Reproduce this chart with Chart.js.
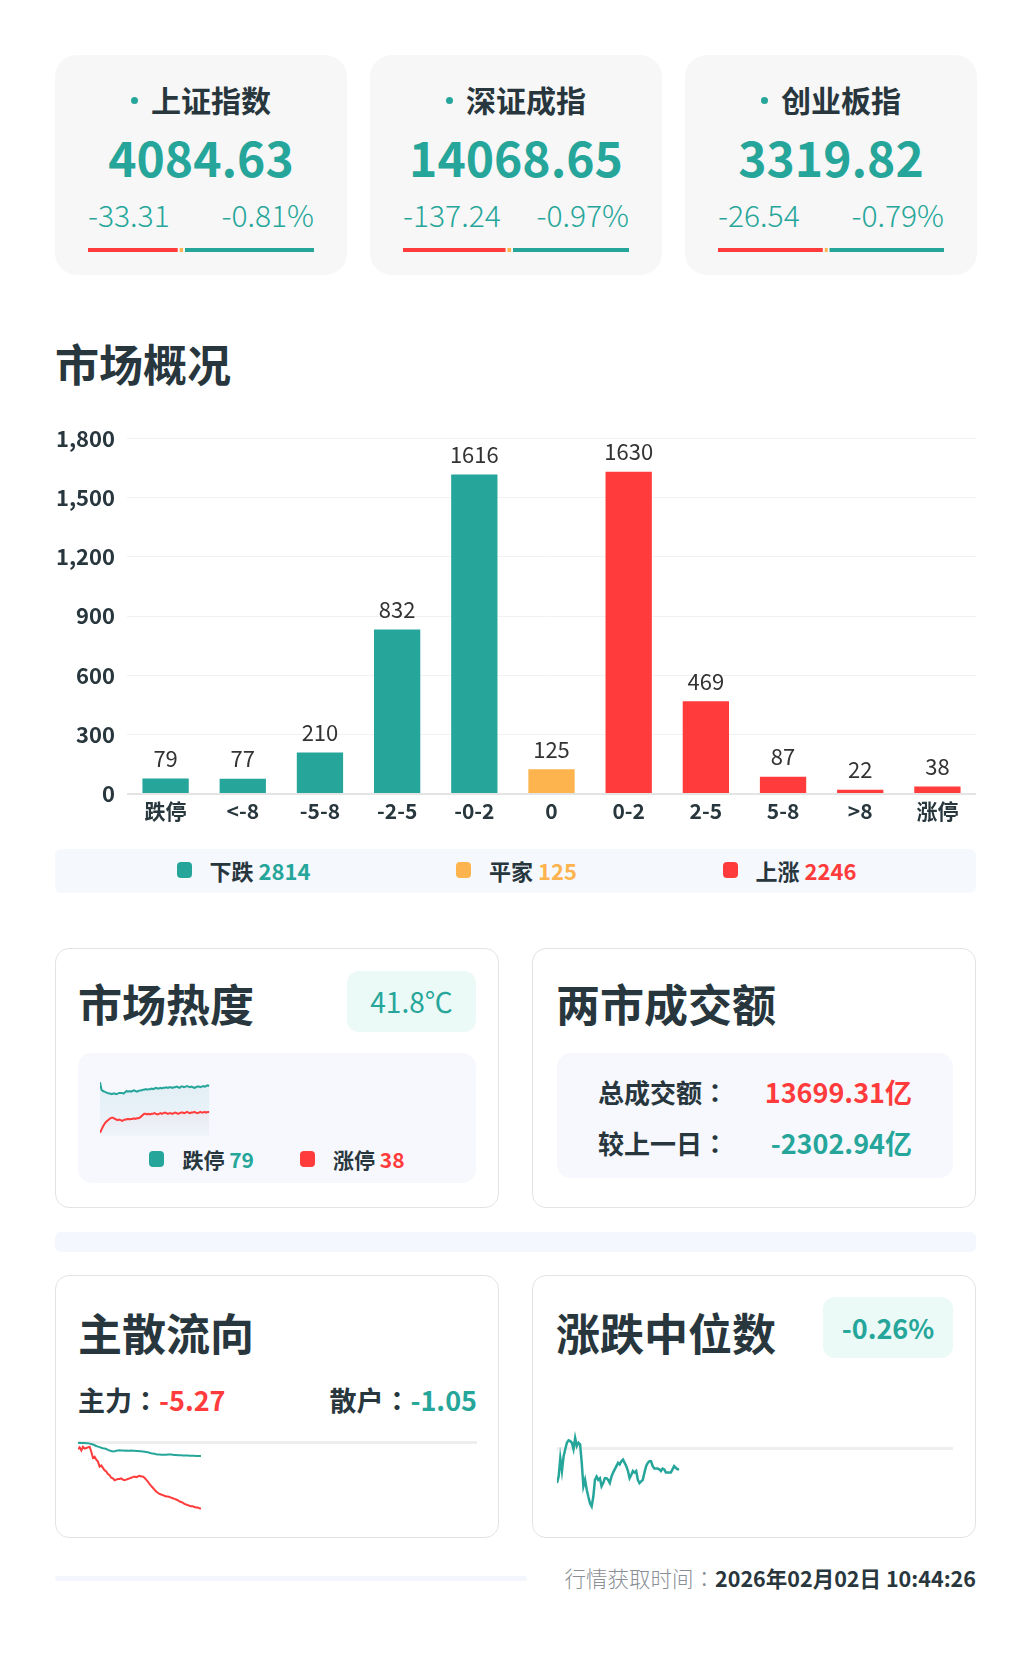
<!DOCTYPE html>
<html><head><meta charset="utf-8">
<script src="https://cdn.jsdelivr.net/npm/chart.js@4.4.1/dist/chart.umd.min.js"></script>
<style>
*{margin:0;padding:0;box-sizing:border-box}
html,body{width:1031px;height:1661px;background:#fff;overflow:hidden}
body{position:relative;font-family:"Noto Sans CJK SC","Noto Sans",sans-serif;color:#28363d}
.a{position:absolute}
.idx{position:absolute;top:55px;width:292px;height:220px;background:#f7f7f7;border-radius:22px}
.idx .t{position:absolute;left:0;right:0;top:24px;height:40px;line-height:40px;text-align:center;font-size:30px;font-weight:700}
.idx .t i{display:inline-block;width:7px;height:7px;border-radius:50%;background:#26a69a;vertical-align:middle;margin-right:13px;position:relative;top:-3px}
.idx .v{position:absolute;left:0;right:0;top:71px;height:60px;line-height:60px;text-align:center;font-size:48px;font-weight:700;color:#26a69a}
.idx .c{position:absolute;left:33px;width:226px;top:141px;height:36px;line-height:36px;display:flex;justify-content:space-between;font-size:30px;font-weight:300;color:#26a69a}
.idx .b{position:absolute;left:33px;width:226px;top:193px;height:4px}
.h1{position:absolute;font-size:44px;font-weight:700;height:56px;line-height:56px;white-space:nowrap}
.card{position:absolute;background:#fff;border:1px solid #e3e3e3;border-radius:14px}
.inner{position:absolute;background:#f6f8fd;border-radius:14px}
.badge{position:absolute;background:#ebfaf6;border-radius:12px;text-align:center;color:#26a69a}
.sq{display:inline-block;width:15px;height:16px;border-radius:4px;margin-right:18px}
.col{font-family:"Noto Sans CJK TC","Noto Sans CJK SC",sans-serif}
</style></head><body>

<div id="cards"></div>

<div class="h1" style="left:55px;top:335px">市场概况</div>
<div class="a" style="left:55px;top:413px;width:921px;height:425px"><canvas id="dist"></canvas></div>
<div class="a" style="left:55px;top:849px;width:921px;height:44px;background:#f5f8fd;border-radius:6px"></div>
<div id="distLegend" class="a" style="left:107px;top:848px;width:819px;height:44px;display:flex"></div>

<div class="card" style="left:55px;top:948px;width:444px;height:260px"></div>
<div class="h1" style="left:78px;top:975px">市场热度</div>
<div class="badge" id="heatBadge" style="left:347px;top:971px;width:129px;height:61px;line-height:61px;font-size:28px;font-weight:400"></div>
<div class="inner" style="left:78px;top:1053px;width:398px;height:130px"></div>
<div class="a" style="left:100px;top:1060px;width:354px;height:76px"><canvas id="heat"></canvas></div>
<div id="heatLegend" class="a" style="left:78px;top:1145px;width:398px;height:28px;display:flex;justify-content:center;gap:46px"></div>

<div class="card" style="left:532px;top:948px;width:444px;height:260px"></div>
<div class="h1" style="left:556px;top:975px">两市成交额</div>
<div class="inner" style="left:557px;top:1053px;width:396px;height:125px"></div>
<div id="turnover"></div>

<div class="a" style="left:55px;top:1232px;width:921px;height:20px;background:#f4f7fd;border-radius:6px"></div>

<div class="card" style="left:55px;top:1275px;width:444px;height:263px"></div>
<div class="h1" style="left:78px;top:1304px">主散流向</div>
<div id="flowText"></div>
<div class="a" style="left:78px;top:1420px;width:399px;height:105px"><canvas id="flow"></canvas></div>

<div class="card" style="left:532px;top:1275px;width:444px;height:263px"></div>
<div class="h1" style="left:556px;top:1304px">涨跌中位数</div>
<div class="badge" id="medBadge" style="left:823px;top:1297px;width:130px;height:61px;line-height:61px;font-size:27px;font-weight:700"></div>
<div class="a" style="left:557px;top:1400px;width:396px;height:125px"><canvas id="median"></canvas></div>

<div class="a" style="left:55px;top:1576px;width:472px;height:5px;background:#f3f6fc;border-radius:3px"></div>
<div id="footer" class="a" style="right:55px;top:1562px;height:32px;line-height:32px;font-size:21.5px;white-space:nowrap"></div>

<script>
// ---------- data ----------
const indexNames = ['上证指数', '深证成指', '创业板指'];
const indexValues = [4084.63, 14068.65, 3319.82];
const indexChanges = [-33.31, -137.24, -26.54];
const indexPcts = [-0.81, -0.97, -0.79];
const indexUp = [940, 1300, 650];
const indexFlat = [55, 70, 30];
const indexDown = [1330, 1450, 700];

const rangeCats = ['跌停', '<-8', '-5-8', '-2-5', '-0-2', '0', '0-2', '2-5', '5-8', '>8', '涨停'];
const rangeCounts = [79, 77, 210, 832, 1616, 125, 1630, 469, 87, 22, 38];
const rangeSide = ['down', 'down', 'down', 'down', 'down', 'flat', 'up', 'up', 'up', 'up', 'up'];
const countAxisMax = 1800;
const countAxisStep = 300;

const heatTemp = '41.8℃';
const limitDownSeries = [85,73,71,70,69,68,67,67,66,67, 67,66,67,68,68,68,67,69,71,70, 71,70,71,72,71,70,71,72,72,73,
  73,74,73,74,74,75,74,75,76,75, 75,76,75,76,76,77,76,77,77,76, 77,77,78,77,76,78,78,77,78,79,
  78,77,78,77,76,77,78,78,77,78, 79,78,79,80,79];
const limitUpSeries = [5,10,15,19,22,24,26,28,29,29, 27,26,25,26,25,24,25,26,26,27, 26,27,27,28,27,28,28,29,31,33,
  35,35,34,35,34,35,35,36,35,34, 35,36,35,36,37,36,35,36,36,35, 36,37,36,35,36,37,37,36,37,38,
  37,36,37,37,38,37,36,37,38,37, 37,38,37,38,38];

const turnoverTotal = '13699.31亿';
const turnoverDiff = '-2302.94亿';

const mainFlow = '-5.27';
const retailFlow = '-1.05';
const mainFlowSeries = [-0.5,-0.35,-0.6,-0.3,-0.45,-0.4,-0.35,-0.3,-0.7,-1.2, -1.1,-1.35,-1.5,-1.9,-1.8,-2.0,-2.2,-2.3,-2.5,-2.6,
  -2.8,-2.85,-3.0,-2.95,-2.9,-2.9,-2.85,-2.95,-3.0,-2.95, -2.9,-2.85,-2.8,-2.75,-2.7,-2.75,-2.7,-2.65,-2.7,-2.7,
  -2.8,-2.95,-3.1,-3.3,-3.45,-3.6,-3.75,-3.9,-4.0,-4.1, -4.15,-4.2,-4.25,-4.3,-4.3,-4.35,-4.4,-4.45,-4.5,-4.55,
  -4.6,-4.7,-4.75,-4.8,-4.9,-4.95,-5.0,-5.05,-5.1,-5.1, -5.15,-5.2,-5.2,-5.25,-5.27];
const retailFlowSeries = [0,0.02,0,-0.01,0,-0.02,-0.02,-0.05,-0.08,-0.12, -0.18,-0.24,-0.29,-0.33,-0.38,-0.42,-0.45,-0.48,-0.55,-0.6,
  -0.65,-0.68,-0.66,-0.62,-0.6,-0.58,-0.6,-0.6,-0.62,-0.6, -0.62,-0.63,-0.61,-0.62,-0.63,-0.64,-0.65,-0.66,-0.67,-0.68,
  -0.7,-0.72,-0.75,-0.78,-0.82,-0.85,-0.87,-0.9,-0.92,-0.93, -0.94,-0.95,-0.95,-0.94,-0.93,-0.92,-0.93,-0.94,-0.96,-0.97,
  -0.98,-0.98,-0.99,-1.0,-1.0,-1.01,-1.01,-1.02,-1.02,-1.03, -1.03,-1.04,-1.04,-1.05,-1.05];

const medianValue = '-0.26%';
const medianSeries = [-0.43,-0.35,-0.12,-0.28,-0.10,-0.01,0.07,0.10,0.09,0.07, -0.01,0.13,0.03,0.07,0.05,-0.18,-0.47,-0.39,-0.51,-0.60,
  -0.68,-0.72,-0.60,-0.39,-0.35,-0.39,-0.37,-0.47,-0.43,-0.37, -0.37,-0.39,-0.43,-0.35,-0.30,-0.26,-0.22,-0.18,-0.20,-0.16,
  -0.14,-0.18,-0.22,-0.28,-0.37,-0.33,-0.28,-0.30,-0.28,-0.39, -0.43,-0.41,-0.39,-0.30,-0.22,-0.18,-0.16,-0.16,-0.22,-0.25,
  -0.25,-0.25,-0.26,-0.28,-0.25,-0.26,-0.30,-0.30,-0.30,-0.30, -0.26,-0.22,-0.24,-0.26,-0.26];

const fetchLabel = '行情获取时间';
const fetchTime = '2026年02月02日 10:44:26';

// ---------- styles ----------
const TEAL = '#26a69a', RED = '#ff3b3b', ORANGE = '#fdb44e', DARK = '#28363d';
const FONT = '"Noto Sans CJK SC","Noto Sans",sans-serif';
const COLON = '<span class="col">：</span>';
Chart.defaults.font.family = FONT;
Chart.defaults.animation = false;

// trading minute labels (categories)
const minuteLabels = [];
for (let m = 0; m <= 240; m++) {
  let t = m <= 120 ? 9 * 60 + 30 + m : 13 * 60 + (m - 120);
  minuteLabels.push(String(Math.floor(t / 60)).padStart(2, '0') + ':' + String(t % 60).padStart(2, '0'));
}

// ---------- index cards ----------
const fmt = v => v.toFixed(2);
const cardsEl = document.getElementById('cards');
indexNames.forEach((name, i) => {
  const d = document.createElement('div');
  d.className = 'idx';
  d.style.left = (55 + i * 315) + 'px';
  d.innerHTML = `<div class="t"><i></i>${name}</div><div class="v">${fmt(indexValues[i])}</div>
  <div class="c"><span>${fmt(indexChanges[i])}</span><span>${fmt(indexPcts[i])}%</span></div>
  <div class="b"><canvas id="ratio${i}"></canvas></div>`;
  cardsEl.appendChild(d);
});
indexNames.forEach((name, i) => {
  const total = indexUp[i] + indexFlat[i] + indexDown[i];
  new Chart(document.getElementById('ratio' + i), {
    type: 'bar',
    data: {
      labels: [name],
      datasets: [
        { data: [indexUp[i]], backgroundColor: RED, borderColor: '#f7f7f7', borderWidth: { left: 0, top: 0, bottom: 0, right: 2 } },
        { data: [indexFlat[i]], backgroundColor: ORANGE, borderColor: '#f7f7f7', borderWidth: { left: 0, top: 0, bottom: 0, right: 2 } },
        { data: [indexDown[i]], backgroundColor: TEAL, borderWidth: 0 }
      ]
    },
    options: {
      indexAxis: 'y', responsive: true, maintainAspectRatio: false,
      layout: { padding: 0 },
      datasets: { bar: { barPercentage: 1, categoryPercentage: 1, borderSkipped: false } },
      plugins: { legend: { display: false }, tooltip: { enabled: false } },
      scales: { x: { stacked: true, display: false, min: 0, max: total }, y: { stacked: true, display: false } }
    }
  });
});

// ---------- distribution chart ----------
const sideColor = { down: TEAL, flat: ORANGE, up: RED };
const valueLabels = {
  id: 'valueLabels',
  afterDatasetsDraw(chart) {
    const ctx = chart.ctx, meta = chart.getDatasetMeta(0), data = chart.data.datasets[0].data;
    ctx.save();
    ctx.font = '400 22px ' + FONT;
    ctx.fillStyle = '#333';
    ctx.textAlign = 'center';
    ctx.textBaseline = 'middle';
    meta.data.forEach((bar, i) => ctx.fillText(String(data[i]), bar.x, bar.y - 20));
    ctx.restore();
  }
};
new Chart(document.getElementById('dist'), {
  type: 'bar',
  data: {
    labels: rangeCats,
    datasets: [{ data: rangeCounts, backgroundColor: rangeSide.map(s => sideColor[s]), barPercentage: 0.6, categoryPercentage: 1 }]
  },
  options: {
    responsive: true, maintainAspectRatio: false,
    layout: { padding: { top: 15, right: 0, left: 0, bottom: 0 } },
    plugins: { legend: { display: false }, tooltip: { enabled: false } },
    scales: {
      y: {
        min: 0, max: countAxisMax,
        ticks: { stepSize: countAxisStep, padding: 12, color: DARK, font: { size: 22, weight: 'bold' },
          callback: v => v.toLocaleString('en-US') },
        grid: { drawTicks: false, color: c => c.tick && c.tick.value === 0 ? '#e4e4e4' : '#f2f2f2', lineWidth: c => c.tick && c.tick.value === 0 ? 2 : 1 },
        border: { display: false },
        afterFit: s => { s.width = 72; }
      },
      x: {
        ticks: { padding: 4, color: DARK, font: { size: 21, weight: 'bold' } },
        grid: { display: false, drawTicks: false },
        border: { display: false },
        afterFit: s => { s.height = 44; }
      }
    }
  },
  plugins: [valueLabels]
});

// legend with sums
const sums = { down: 0, flat: 0, up: 0 };
rangeCounts.forEach((v, i) => sums[rangeSide[i]] += v);
const legendItems = [['下跌', 'down'], ['平家', 'flat'], ['上涨', 'up']];
document.getElementById('distLegend').innerHTML = legendItems.map(([t, k]) =>
  `<div style="flex:1;display:flex;justify-content:center;align-items:center;font-size:22px;font-weight:700">
   <span class="sq" style="background:${sideColor[k]}"></span>${t}&nbsp;<span style="color:${sideColor[k]}">${sums[k]}</span></div>`).join('');

// ---------- heat ----------
document.getElementById('heatBadge').textContent = heatTemp;
document.getElementById('heatLegend').innerHTML =
  `<div style="display:flex;align-items:center;font-size:21px;font-weight:700"><span class="sq" style="background:${TEAL}"></span>跌停&nbsp;<span style="color:${TEAL}">${limitDownSeries[limitDownSeries.length - 1]}</span></div>
   <div style="display:flex;align-items:center;font-size:21px;font-weight:700"><span class="sq" style="background:${RED}"></span>涨停&nbsp;<span style="color:${RED}">${limitUpSeries[limitUpSeries.length - 1]}</span></div>`;

function grad(rgb, a1, a2) {
  return ctx => {
    const { chart } = ctx, area = chart.chartArea;
    if (!area) return 'rgba(' + rgb + ',0)';
    const g = chart.ctx.createLinearGradient(0, area.top, 0, area.bottom);
    g.addColorStop(0, 'rgba(' + rgb + ',' + a1 + ')');
    g.addColorStop(1, 'rgba(' + rgb + ',' + a2 + ')');
    return g;
  };
}
new Chart(document.getElementById('heat'), {
  type: 'line',
  data: {
    labels: minuteLabels,
    datasets: [
      { data: limitUpSeries, borderColor: RED, borderWidth: 2, pointRadius: 0, fill: 'start', backgroundColor: grad('255,80,90', 0.16, 0.0) },
      { data: limitDownSeries, borderColor: TEAL, borderWidth: 2, pointRadius: 0, fill: 'start', backgroundColor: grad('80,170,190', 0.16, 0.04) }
    ]
  },
  options: {
    responsive: true, maintainAspectRatio: false, layout: { padding: 0 },
    plugins: { legend: { display: false }, tooltip: { enabled: false } },
    scales: { x: { display: false }, y: { display: false, min: 0, max: 120 } }
  }
});

// ---------- turnover ----------
document.getElementById('turnover').innerHTML = [
  ['总成交额', turnoverTotal, RED, 1092],
  ['较上一日', turnoverDiff, TEAL, 1143]
].map(([l, v, c, y]) => `<div class="a" style="left:598px;top:${y - 20}px;height:40px;line-height:40px;font-size:26px;font-weight:700">${l}${COLON}</div>
  <div class="a" style="right:${1031 - 912}px;top:${y - 20}px;height:40px;line-height:40px;font-size:27px;font-weight:700;color:${c}">${v}</div>`).join('');

// ---------- flow ----------
document.getElementById('flowText').innerHTML =
  `<div class="a" style="left:78px;top:1380px;height:40px;line-height:40px;font-size:27px;font-weight:700">主力${COLON}<span style="color:${RED}">${mainFlow}</span></div>
   <div class="a" style="right:${1031 - 477}px;top:1380px;height:40px;line-height:40px;font-size:27px;font-weight:700">散户${COLON}<span style="color:${TEAL}">${retailFlow}</span></div>`;

function zeroLineOpts(min, max) {
  return {
    responsive: true, maintainAspectRatio: false, layout: { padding: 0 },
    plugins: { legend: { display: false }, tooltip: { enabled: false } },
    scales: {
      x: { display: false },
      y: {
        min, max,
        ticks: { display: false },
        grid: { drawTicks: false, color: '#eeeeee', lineWidth: 3 },
        border: { display: false },
        afterBuildTicks: s => { s.ticks = [{ value: 0 }]; },
        afterFit: s => { s.width = 0; }
      }
    }
  };
}
new Chart(document.getElementById('flow'), {
  type: 'line',
  data: {
    labels: minuteLabels,
    datasets: [
      { data: retailFlowSeries, borderColor: TEAL, borderWidth: 2, pointRadius: 0, fill: false },
      { data: mainFlowSeries, borderColor: RED, borderWidth: 2, pointRadius: 0, fill: false }
    ]
  },
  options: zeroLineOpts(-6.6, 1.85)
});

// ---------- median ----------
document.getElementById('medBadge').textContent = medianValue;
new Chart(document.getElementById('median'), {
  type: 'line',
  data: {
    labels: minuteLabels,
    datasets: [{ data: medianSeries, borderColor: TEAL, borderWidth: 2.5, pointRadius: 0, fill: false }]
  },
  options: zeroLineOpts(-0.95, 0.6)
});

// ---------- footer ----------
document.getElementById('footer').innerHTML =
  `<span style="color:#8a8f94;font-weight:300">${fetchLabel}${COLON}</span><span style="font-weight:700">${fetchTime}</span>`;
</script>
</body></html>
